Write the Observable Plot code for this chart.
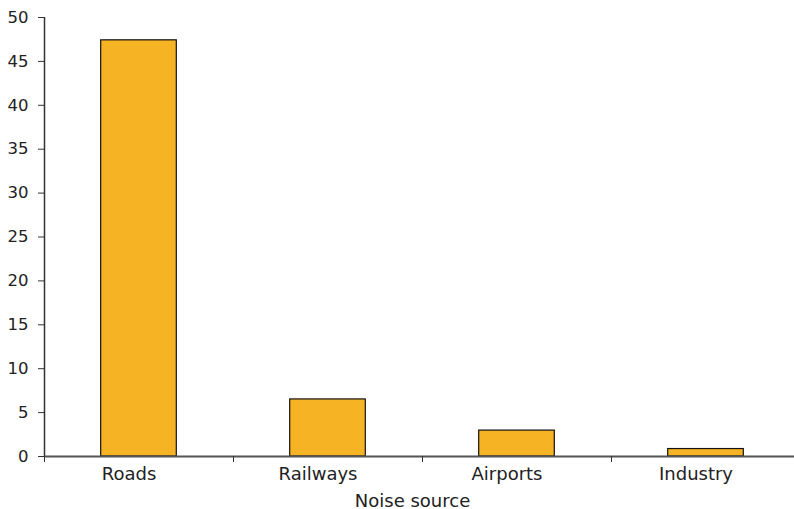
<!DOCTYPE html>
<html>
<head>
<meta charset="utf-8">
<script src="https://cdn.jsdelivr.net/npm/d3@7"></script>
<script src="https://cdn.jsdelivr.net/npm/@observablehq/plot@0.6"></script>
<style>
  html, body { margin: 0; padding: 0; background: #fff; }
  svg { display: block; }
</style>
</head>
<body>
<div id="chart"></div>
<script>
const categories = ["Roads", "Railways", "Airports", "Industry"];
const values = [47.4, 6.5, 2.95, 0.85];
const yTicks = [0, 5, 10, 15, 20, 25, 30, 35, 40, 45, 50];

const data = categories.map((c, i) => ({ i, category: c, value: values[i] }));
const font = "DejaVu Sans, Verdana, sans-serif";

const chart = Plot.plot({
  width: 794,
  height: 509,
  marginTop: 17,
  marginBottom: 53,
  marginLeft: 44,
  marginRight: -6,
  style: { fontFamily: font, fontSize: "16px", color: "#222", background: "#fff" },
  x: { domain: [0, categories.length], axis: null },
  y: { domain: [0, 50], axis: null },
  marks: [
    Plot.rectY(data, {
      x1: d => d.i + 0.3,
      x2: d => d.i + 0.7,
      y: "value",
      fill: "#F6B324",
      stroke: "#111",
      strokeWidth: 1.2
    }),
    Plot.axisY({
      ticks: yTicks,
      tickSize: 6,
      tickPadding: 10,
      stroke: "#333",
      fontSize: 16.5,
      label: null,
      tickFormat: d => d
    }),
    Plot.ruleX([0], { stroke: "#333", strokeWidth: 1.5 }),
    Plot.ruleY([0], { stroke: "#555", strokeWidth: 2 }),
    Plot.axisX({
      ticks: d3.range(0, categories.length + 1),
      tickSize: 6,
      tickFormat: () => "",
      stroke: "#333",
      label: null
    }),
    Plot.axisX({
      ticks: categories.map((c, i) => i + 0.5),
      tickSize: 0,
      tickPadding: 11,
      fontSize: 18,
      dx: -10,
      tickFormat: d => categories[Math.floor(d)],
      label: null
    }),
    Plot.text(["Noise source"], {
      x: 2,
      frameAnchor: "bottom",
      dy: 50,
      dx: -10,
      text: d => d,
      fontSize: 18,
      fill: "#222"
    })
  ]
});
document.getElementById("chart").appendChild(chart);
</script>
</body>
</html>
